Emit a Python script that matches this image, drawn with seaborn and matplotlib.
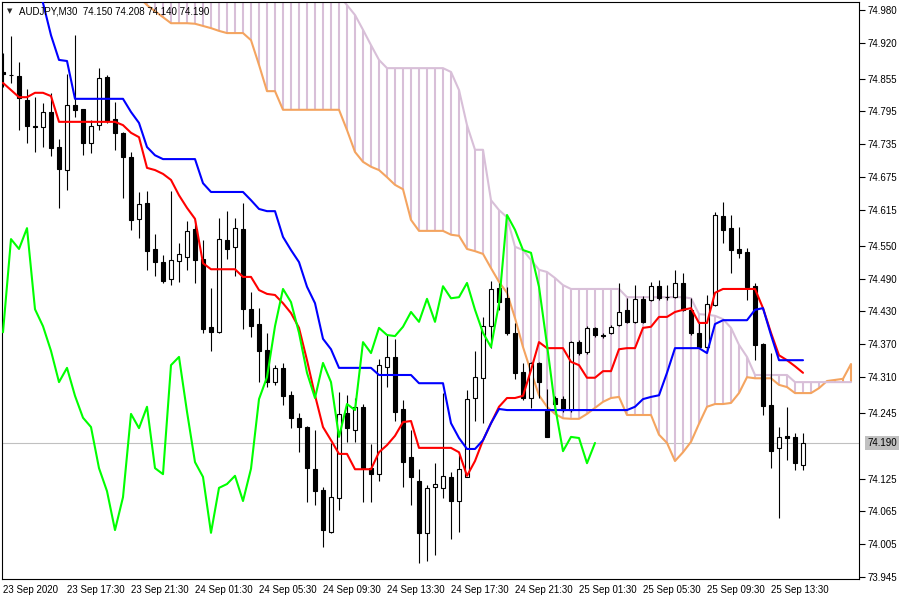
import matplotlib
matplotlib.use('Agg')
import matplotlib.pyplot as plt
import matplotlib.transforms as mtransforms
import numpy as np
import pandas as pd
import seaborn as sns

# ---- Datos: AUDJPY M30, velas e Ichimoku ----
opens = [74.867, 74.861, 74.860, 74.816, 74.768, 74.767, 74.794, 74.730, 74.688, 74.807,
         74.799, 74.737, 74.770, 74.858, 74.781, 74.756, 74.712, 74.599, 74.628, 74.544,
         74.520, 74.489, 74.522, 74.529, 74.580, 74.526, 74.402, 74.392, 74.560, 74.548,
         74.580, 74.434, 74.407, 74.360, 74.301, 74.327, 74.277, 74.236, 74.219, 74.143,
         74.104, 74.028, 74.089, 74.245, 74.214, 74.256, 74.144, 74.133, 74.329, 74.347,
         74.252, 74.164, 74.121, 74.026, 74.110, 74.108, 74.128, 74.084, 74.128, 74.272,
         74.308, 74.403, 74.473, 74.454, 74.391, 74.319, 74.272, 74.336, 74.252, 74.272,
         74.270, 74.250, 74.374, 74.356, 74.400, 74.387, 74.391, 74.405, 74.433, 74.411,
         74.453, 74.451, 74.476, 74.456, 74.456, 74.482, 74.433, 74.391, 74.365, 74.442,
         74.604, 74.582, 74.544, 74.538, 74.476, 74.371, 74.259, 74.181, 74.203, 74.201,
         74.150]
highs = [74.901, 74.933, 74.885, 74.836, 74.821, 74.810, 74.829, 74.745, 74.863, 74.934,
         74.800, 74.779, 74.874, 74.861, 74.812, 74.757, 74.721, 74.648, 74.650, 74.571,
         74.533, 74.650, 74.555, 74.595, 74.597, 74.560, 74.473, 74.600, 74.613, 74.600,
         74.628, 74.465, 74.436, 74.391, 74.332, 74.336, 74.285, 74.245, 74.221, 74.214,
         74.110, 74.190, 74.283, 74.277, 74.272, 74.261, 74.188, 74.343, 74.387, 74.380,
         74.268, 74.214, 74.143, 74.113, 74.153, 74.281, 74.137, 74.168, 74.287, 74.358,
         74.420, 74.486, 74.482, 74.475, 74.409, 74.336, 74.337, 74.337, 74.288, 74.276,
         74.276, 74.376, 74.378, 74.403, 74.402, 74.391, 74.405, 74.482, 74.454, 74.478,
         74.458, 74.484, 74.487, 74.478, 74.506, 74.500, 74.454, 74.409, 74.460, 74.611,
         74.630, 74.606, 74.584, 74.546, 74.482, 74.372, 74.354, 74.219, 74.256, 74.208,
         74.208]
lows = [74.840, 74.847, 74.761, 74.737, 74.721, 74.730, 74.714, 74.619, 74.652, 74.785,
        74.715, 74.719, 74.761, 74.774, 74.725, 74.637, 74.579, 74.564, 74.506, 74.495,
        74.482, 74.478, 74.484, 74.506, 74.482, 74.391, 74.358, 74.390, 74.526, 74.495,
        74.398, 74.383, 74.301, 74.292, 74.296, 74.259, 74.217, 74.173, 74.082, 74.077,
        74.000, 74.026, 74.068, 74.192, 74.192, 74.082, 74.082, 74.121, 74.292, 74.230,
        74.110, 74.077, 73.971, 73.975, 73.986, 74.090, 74.015, 74.028, 74.127, 74.230,
        74.226, 74.363, 74.433, 74.387, 74.307, 74.268, 74.254, 74.272, 74.201, 74.247,
        74.247, 74.247, 74.350, 74.352, 74.383, 74.382, 74.389, 74.403, 74.409, 74.409,
        74.409, 74.449, 74.451, 74.451, 74.454, 74.431, 74.387, 74.363, 74.363, 74.440,
        74.555, 74.500, 74.528, 74.451, 74.341, 74.241, 74.144, 74.053, 74.159, 74.141,
        74.140]
closes = [74.863, 74.862, 74.819, 74.768, 74.767, 74.794, 74.728, 74.690, 74.807, 74.798,
          74.737, 74.768, 74.856, 74.777, 74.756, 74.712, 74.597, 74.626, 74.540, 74.520,
          74.486, 74.524, 74.535, 74.577, 74.524, 74.398, 74.392, 74.562, 74.544, 74.582,
          74.434, 74.403, 74.358, 74.301, 74.327, 74.276, 74.236, 74.219, 74.144, 74.102,
          74.031, 74.091, 74.243, 74.217, 74.256, 74.144, 74.133, 74.332, 74.347, 74.247,
          74.155, 74.128, 74.026, 74.108, 74.115, 74.130, 74.084, 74.143, 74.270, 74.310,
          74.403, 74.471, 74.447, 74.391, 74.318, 74.272, 74.336, 74.301, 74.201, 74.261,
          74.250, 74.374, 74.354, 74.400, 74.387, 74.385, 74.402, 74.429, 74.411, 74.453,
          74.411, 74.476, 74.454, 74.456, 74.482, 74.433, 74.391, 74.365, 74.444, 74.606,
          74.579, 74.542, 74.537, 74.475, 74.369, 74.257, 74.175, 74.201, 74.199, 74.153,
          74.190]

tenkan = [74.847, 74.834, 74.821, 74.821, 74.829, 74.829, 74.823, 74.776, 74.776, 74.776,
          74.776, 74.776, 74.776, 74.776, 74.776, 74.770, 74.756, 74.748, 74.692, 74.688,
          74.681, 74.670, 74.642, 74.619, 74.599, 74.518, 74.507, 74.507, 74.507, 74.507,
          74.493, 74.493, 74.469, 74.462, 74.460, 74.445, 74.427, 74.400, 74.341, 74.277,
          74.219, 74.195, 74.170, 74.170, 74.142, 74.142, 74.142, 74.173, 74.186, 74.203,
          74.228, 74.230, 74.181, 74.181, 74.181, 74.181, 74.181, 74.173, 74.130, 74.157,
          74.195, 74.226, 74.256, 74.272, 74.272, 74.276, 74.323, 74.374, 74.363, 74.363,
          74.363, 74.338, 74.332, 74.309, 74.309, 74.321, 74.321, 74.361, 74.363, 74.363,
          74.400, 74.402, 74.420, 74.420, 74.429, 74.433, 74.436, 74.409, 74.409, 74.464,
          74.471, 74.471, 74.471, 74.471, 74.471, 74.436, 74.391, 74.350, 74.341, 74.330,
          74.318]
kijun = [75.035, 75.035, 75.035, 75.035, 75.035, 74.993, 74.934, 74.889, 74.887, 74.818,
         74.818, 74.818, 74.818, 74.818, 74.818, 74.818, 74.794, 74.774, 74.730, 74.715,
         74.708, 74.708, 74.708, 74.708, 74.708, 74.664, 74.648, 74.648, 74.648, 74.648,
         74.648, 74.633, 74.617, 74.613, 74.613, 74.566, 74.542, 74.520, 74.475, 74.445,
         74.380, 74.361, 74.327, 74.327, 74.327, 74.327, 74.327, 74.314, 74.314, 74.314,
         74.314, 74.314, 74.299, 74.299, 74.299, 74.299, 74.226, 74.199, 74.179, 74.179,
         74.195, 74.226, 74.252, 74.250, 74.250, 74.250, 74.250, 74.250, 74.250, 74.250,
         74.250, 74.250, 74.250, 74.250, 74.250, 74.250, 74.250, 74.250, 74.250, 74.256,
         74.270, 74.274, 74.277, 74.318, 74.363, 74.363, 74.363, 74.363, 74.354, 74.407,
         74.414, 74.414, 74.414, 74.414, 74.433, 74.436, 74.387, 74.341, 74.341, 74.341,
         74.341]
span_a = ([75.060] * 17 +
          [75.004, 74.989, 74.978,
           74.967, 74.956, 74.956, 74.956, 74.955, 74.951, 74.947, 74.942, 74.938, 74.938,
           74.938, 74.925, 74.880, 74.832, 74.832, 74.798, 74.798, 74.798, 74.798, 74.798,
           74.798, 74.798, 74.798, 74.761, 74.721, 74.703, 74.694, 74.688, 74.675, 74.661,
           74.653, 74.597, 74.577, 74.577, 74.577, 74.577, 74.570, 74.568, 74.544, 74.540,
           74.535, 74.509, 74.484, 74.464, 74.418, 74.365, 74.320, 74.277, 74.256, 74.243,
           74.235, 74.234, 74.234, 74.243, 74.254, 74.265, 74.272, 74.274, 74.241, 74.241,
           74.241, 74.241, 74.205, 74.190, 74.157, 74.173, 74.192, 74.225, 74.256, 74.261,
           74.261, 74.263, 74.281, 74.310, 74.308, 74.308, 74.308, 74.296, 74.292, 74.281,
           74.281, 74.281, 74.290, 74.303, 74.305, 74.307, 74.334])
span_b = ([75.080] * 42 +
          [75.007, 74.989, 74.971, 74.944, 74.916, 74.889, 74.874, 74.874,
           74.874, 74.874, 74.874, 74.874, 74.874, 74.874, 74.867, 74.834, 74.770, 74.725,
           74.725, 74.633, 74.615, 74.602, 74.548, 74.542, 74.524, 74.506, 74.502, 74.491,
           74.478, 74.471, 74.471, 74.471, 74.471, 74.471, 74.471, 74.471, 74.456, 74.456,
           74.456, 74.456, 74.456, 74.456, 74.456, 74.456, 74.454, 74.425, 74.424, 74.422,
           74.416, 74.400, 74.369, 74.347, 74.314, 74.314, 74.314, 74.314, 74.314, 74.301,
           74.301, 74.301, 74.301, 74.301, 74.301, 74.301, 74.301])
chikou_shift = 26

ytick_vals = [74.980, 74.920, 74.855, 74.795, 74.735, 74.675, 74.615, 74.550, 74.490,
              74.430, 74.370, 74.310, 74.245, 74.125, 74.065, 74.005, 73.945]
xtick_labels = ['23 Sep 2020', '23 Sep 17:30', '23 Sep 21:30', '24 Sep 01:30', '24 Sep 05:30',
                '24 Sep 09:30', '24 Sep 13:30', '24 Sep 17:30', '24 Sep 21:30', '25 Sep 01:30',
                '25 Sep 05:30', '25 Sep 09:30', '25 Sep 13:30']
bid = 74.190

df = pd.DataFrame({'open': opens, 'high': highs, 'low': lows, 'close': closes,
                   'tenkan': tenkan, 'kijun': kijun})
df['bar'] = np.arange(len(df))

sns.set_style('white')
plt.rcParams['font.family'] = ['Liberation Sans', 'DejaVu Sans']

fig = plt.figure(figsize=(9, 6), dpi=100)
ax = fig.add_axes([2 / 900, 21 / 600, 857 / 900, 577 / 600])

# ---- Nube (rayado vertical entre Senkou A y B) ----
cx = np.arange(len(span_a))
a = np.array(span_a)
b = np.array(span_b)
hatch_cols = np.where(a > b, '#F4A460', '#D8BFD8')
ax.vlines(cx, np.minimum(a, b), np.maximum(a, b), colors=hatch_cols, lw=1.5, zorder=1)
sns.lineplot(x=cx, y=a, ax=ax, color='#F4A460', lw=1.5, zorder=2, estimator=None)
sns.lineplot(x=cx, y=b, ax=ax, color='#D8BFD8', lw=1.5, zorder=2, estimator=None)

# linea bid
ax.axhline(bid, color='#C0C0C0', lw=0.8, zorder=0.5)

# ---- Velas ----
ax.vlines(df['bar'], df['low'], df['high'], color='black', lw=0.8, zorder=3)
up = df['close'] >= df['open']
body_lo = np.minimum(df['open'], df['close'])
body_h = np.abs(df['close'] - df['open'])
ax.bar(df['bar'][up], body_h[up], bottom=body_lo[up], width=0.6,
       color='white', edgecolor='black', lw=0.8, zorder=4)
ax.bar(df['bar'][~up], body_h[~up], bottom=body_lo[~up], width=0.6,
       color='black', edgecolor='black', lw=0.8, zorder=4)

# ---- Lineas Ichimoku ----
sns.lineplot(data=df, x='bar', y='tenkan', ax=ax, color='#FF0000', lw=1.5, zorder=5, estimator=None)
sns.lineplot(data=df, x='bar', y='kijun', ax=ax, color='#0000FF', lw=1.5, zorder=5, estimator=None)
chik = df.iloc[chikou_shift:]
sns.lineplot(x=chik['bar'] - chikou_shift, y=chik['close'].values, ax=ax,
             color='#00FF00', lw=1.5, zorder=5, estimator=None)

# ---- Ejes ----
ax.set_xlim(-0.125, 107.0)
ax.set_ylim(73.9417, 74.9947)
ax.set_xlabel('')
ax.set_ylabel('')
ax.yaxis.tick_right()
ax.set_yticks(ytick_vals)
ax.set_yticklabels([f'{v:.3f}' for v in ytick_vals])
ax.set_xticks(np.arange(0, 8 * len(xtick_labels), 8))
ax.set_xticklabels(xtick_labels)
for lbl in ax.get_xticklabels():
    lbl.set_horizontalalignment('left')
ax.tick_params(axis='x', direction='out', length=4, width=0.8, labelsize=7, pad=0, colors='black')
ax.tick_params(axis='y', direction='out', length=4, width=0.8, labelsize=7, pad=2, colors='black')
for s in ax.spines.values():
    s.set_color('black')
    s.set_linewidth(0.8)

# etiqueta del precio actual
trans = mtransforms.blended_transform_factory(ax.transAxes, ax.transData)
ax.text(1.0 + 8 / 857, bid, f'{bid:.3f}', transform=trans, fontsize=7, va='center', ha='left',
        color='black', bbox=dict(boxstyle='square,pad=0.25', fc='#C0C0C0', ec='none'), clip_on=False)

# titulo
fig.text(7 / 900, 1 - 11 / 600, '\u25bc', fontsize=5, va='center', ha='left',
         family=['DejaVu Sans'])
fig.text(19 / 900, 1 - 11 / 600, 'AUDJPY,M30  74.150 74.208 74.140 74.190', fontsize=7,
         va='center', ha='left', color='black')

fig.savefig('out.png', dpi=100, facecolor='white')
